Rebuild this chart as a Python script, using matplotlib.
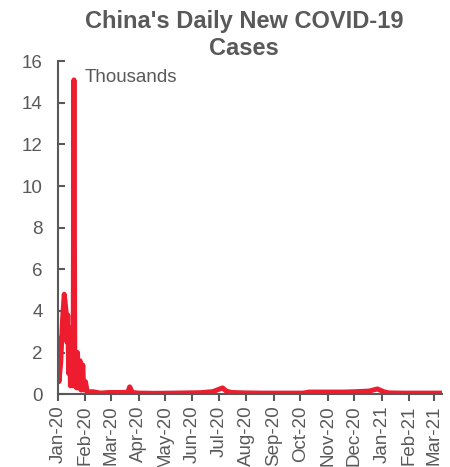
import matplotlib
matplotlib.use("Agg")
import matplotlib.pyplot as plt
import pandas as pd

plt.rcParams['font.family'] = ['Liberation Sans', 'DejaVu Sans']

title = "China's Daily New COVID-19\nCases"
unit_label = "Thousands"

# Daily new cases (thousands), key points
dates = ["2020-01-22", "2020-01-23", "2020-01-25", "2020-01-27", "2020-01-29",
         "2020-01-31", "2020-02-01", "2020-02-02", "2020-02-03", "2020-02-04",
         "2020-02-05", "2020-02-06", "2020-02-07", "2020-02-08", "2020-02-09",
         "2020-02-10", "2020-02-11", "2020-02-12", "2020-02-13", "2020-02-14",
         "2020-02-16", "2020-02-17", "2020-02-19", "2020-02-20", "2020-02-22",
         "2020-02-24", "2020-03-01", "2020-03-10", "2020-03-20", "2020-04-05",
         "2020-04-10", "2020-04-12", "2020-04-15", "2020-04-22", "2020-05-10",
         "2020-06-01", "2020-06-15", "2020-07-01", "2020-07-15", "2020-07-26",
         "2020-07-30", "2020-08-05", "2020-08-20", "2020-09-10", "2020-10-01",
         "2020-10-25", "2020-11-01", "2020-11-20", "2020-12-10", "2020-12-25",
         "2021-01-08", "2021-01-17", "2021-01-24", "2021-01-30", "2021-02-15",
         "2021-03-01", "2021-03-31"]
cases = [2.7, 0.6, 1.5, 3.5, 4.8,
         4.0, 2.5, 3.8, 1.0, 3.2,
         0.4, 2.5, 0.5, 0.4, 15.1,
         0.4, 2.0, 0.3, 2.0, 0.3,
         1.6, 0.2, 1.4, 0.2, 0.6,
         0.1, 0.12, 0.05, 0.08, 0.08,
         0.1, 0.35, 0.08, 0.05, 0.04,
         0.05, 0.06, 0.07, 0.12, 0.3,
         0.15, 0.08, 0.06, 0.05, 0.05,
         0.05, 0.1, 0.1, 0.1, 0.12,
         0.15, 0.25, 0.12, 0.06, 0.05,
         0.05, 0.05]

x = pd.to_datetime(dates)
tick_dates = [pd.Timestamp("2020-01-22") + pd.DateOffset(months=i) for i in range(15)]
tick_labels = [d.strftime("%b-%y") for d in tick_dates]

gray = "#595959"
red = "#ED1C2E"

fig = plt.figure(figsize=(4.5, 4.67), dpi=100)
ax = fig.add_axes([0.129, 0.156, 0.853, 0.713])
ax.plot(x, cases, color=red, lw=3.6, solid_joinstyle='round', solid_capstyle='round')

ax.set_xlim(pd.Timestamp("2020-01-22"), pd.Timestamp("2021-03-31"))
ax.set_ylim(0, 16)
ax.set_yticks(range(0, 17, 2))
ax.set_xticks(tick_dates)
ax.set_xticklabels(tick_labels, rotation=90)

for s in ["top", "right"]:
    ax.spines[s].set_visible(False)
for s in ["left", "bottom"]:
    ax.spines[s].set_color(gray)
    ax.spines[s].set_linewidth(1.5)
ax.tick_params(axis='y', direction='in', length=5, width=1.5, color=gray,
               labelcolor=gray, labelsize=13.5, pad=11)
ax.tick_params(axis='x', direction='out', length=5, width=1.5, color=gray,
               labelcolor=gray, labelsize=13.5, pad=3)

fig.text(0.543, 0.978, title, ha='center', va='top', fontsize=17,
         fontweight='bold', color=gray, linespacing=1.2)
ax.text(0.068, 0.952, unit_label, transform=ax.transAxes, fontsize=13.5,
        color=gray, va='center', ha='left')

fig.savefig("out.png", dpi=100)
